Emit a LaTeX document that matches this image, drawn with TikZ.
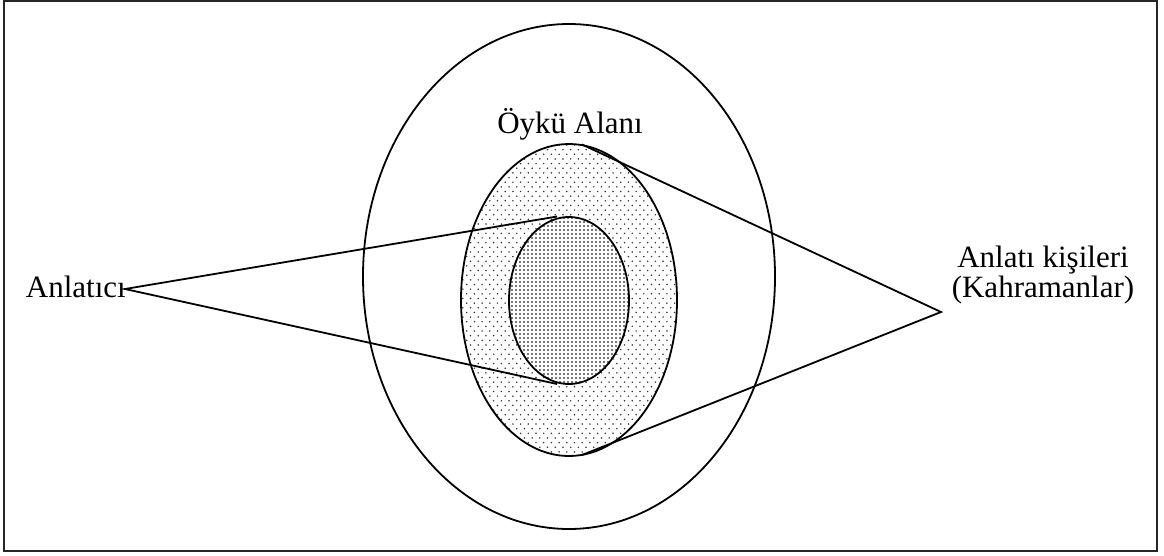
\documentclass[tikz,border=0pt]{standalone}
\usepackage{fontspec}
\setmainfont{Liberation Serif}
\usetikzlibrary{shapes.geometric}
\pgfdeclarelayer{bg}
\pgfdeclarelayer{mid}
\pgfsetlayers{bg,mid,main}
\tikzset{
  ring/.style={ellipse, draw=black, line width=1.8pt, inner sep=0pt, outer sep=0pt},
  sparsedot/.style={fill=black!80},
  densedot/.style={fill=black!72},
  lbl/.style={font=\fontsize{31}{30}\selectfont, inner sep=0pt, align=center},
  link/.style={line width=1.8pt, line join=miter}
}
\begin{document}
\begin{tikzpicture}[x=1pt,y=-1pt]
\useasboundingbox (0,0) rectangle (1164,555);
\draw[line width=2.2pt, draw=black!85] (4,1) rectangle (1157,551);
\node[ring, minimum width=412pt, minimum height=505pt] (outer) at (569,276.5) {};
\node[ring, minimum width=216pt, minimum height=312pt] (middle) at (569,300) {};
\node[ring, minimum width=120pt, minimum height=167pt] (inner) at (569,300.5) {};
\begin{pgfonlayer}{bg}
\begin{scope}
\clip (middle.center) ellipse [x radius=108pt, y radius=156pt];
\foreach \r in {0,...,68}{
  \pgfmathsetmacro{\yy}{145+\r*4.65}
  \pgfmathsetmacro{\xo}{mod(\r,2)*3.85}
  \foreach \c in {0,...,29}{
    \fill[sparsedot] ({459+\xo+\c*7.7},\yy) circle [radius=0.85pt];
  }
}
\end{scope}
\end{pgfonlayer}
\begin{pgfonlayer}{mid}
\fill[white] (inner.center) ellipse [x radius=60pt, y radius=83.5pt];
\begin{scope}
\clip (inner.center) ellipse [x radius=60pt, y radius=83.5pt];
\foreach \r in {0,...,43}{
  \pgfmathsetmacro{\yy}{218+\r*4}
  \foreach \c in {0,...,31}{
    \fill[densedot] ({508+\c*4},\yy) circle [radius=1.05pt];
  }
}
\end{scope}
\end{pgfonlayer}
\node[lbl, anchor=base] (story) at (570,133) {Öykü Alanı};
\node[lbl, anchor=base east] (narrator) at (126,297) {Anlatıcı};
\node[lbl, anchor=base] (chars) at (1043,297) {Anlatı kişileri\\(Kahramanlar)};
\coordinate (la) at (125,289);
\coordinate (ra) at (941,312);
\coordinate (it) at (557,216.5);
\coordinate (ib) at (557,384);
\coordinate (mt) at (582,144.5);
\coordinate (mb) at (582,455);
\draw[link] (it) -- (la) -- (ib);
\draw[link] (mt) -- (ra) -- (mb);
\end{tikzpicture}
\end{document}
